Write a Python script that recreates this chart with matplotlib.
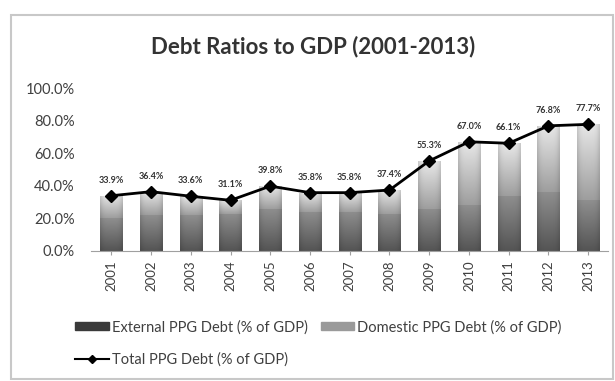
import numpy as np
import matplotlib.pyplot as plt
from matplotlib.patches import Rectangle
from matplotlib.lines import Line2D

plt.rcParams['font.family'] = ['Lato', 'DejaVu Sans']

# data (% of GDP)
years = ['2001', '2002', '2003', '2004', '2005', '2006', '2007',
         '2008', '2009', '2010', '2011', '2012', '2013']
total = [33.9, 36.4, 33.6, 31.1, 39.8, 35.8, 35.8, 37.4, 55.3, 67.0, 66.1, 76.8, 77.7]
external = [20.0, 22.0, 22.0, 23.0, 26.0, 24.0, 24.0, 23.0, 26.0, 28.0, 34.0, 36.0, 31.0]
domestic = [t - e for t, e in zip(total, external)]

fig = plt.figure(figsize=(6.15, 3.81), dpi=100)
fig.patch.set_facecolor('white')

# chart border
fig.patches.append(Rectangle((11 / 615, 2 / 381), 602 / 615, 1 - 17 / 381,
                             transform=fig.transFigure, fill=False,
                             edgecolor='#c8c8c8', lw=1.5))

ax = fig.add_axes([91.4 / 615, 1 - 251 / 381, 516.7 / 615, 163 / 381])
x = np.arange(len(years))
w = 0.56

b_ext = ax.bar(x, external, w, color='#777777', zorder=2)
b_dom = ax.bar(x, domestic, w, bottom=external, color='#c4c4c4', zorder=2)


def shade(bars, c_low, c_high):
    # vertical gradient inside each bar, a bit darker at the sides
    gy = np.linspace(0, 1, 64).reshape(-1, 1)
    gx = np.linspace(-1, 1, 16).reshape(1, -1)
    lo = np.array(c_low)
    hi = np.array(c_high)
    img = lo + (hi - lo) * gy[..., None]
    img = img * (1 - 0.12 * gx[..., None] ** 4)
    img = np.clip(img, 0, 1)
    for b in bars:
        bx, by = b.get_x(), b.get_y()
        im = ax.imshow(img, extent=[bx, bx + b.get_width(), by, by + b.get_height()],
                       origin='lower', aspect='auto', zorder=2.5, interpolation='bilinear')
        im.set_clip_path(b)


shade(b_ext, (0.33, 0.33, 0.33), (0.56, 0.56, 0.56))
shade(b_dom, (0.62, 0.62, 0.62), (0.91, 0.91, 0.91))

ax.plot(x, total, color='black', lw=2, marker='D', ms=6, zorder=4)
for xi, t in zip(x, total):
    ax.annotate(f'{t:.1f}%', (xi, t), xytext=(0, 8), textcoords='offset points',
                ha='center', va='bottom', fontsize=6.5, fontweight='bold', color='#333333')

ax.set_xlim(-0.5, len(years) - 0.5)
ax.set_ylim(0, 100)
ax.set_yticks(np.arange(0, 101, 20))
ax.set_yticklabels([f'{v:.1f}%' for v in np.arange(0, 101, 20)])
ax.set_xticks(x)
ax.set_xticklabels(years, rotation=90)
ax.tick_params(axis='y', length=0, labelsize=10.5, labelcolor='#404040', pad=12)
ax.tick_params(axis='x', length=3, color='#a0a0a0', labelsize=9.5, labelcolor='#404040', pad=4)
for s in ['top', 'right', 'left']:
    ax.spines[s].set_visible(False)
ax.spines['bottom'].set_color('#a0a0a0')
ax.set_facecolor('none')

fig.text(313 / 615, 1 - 47 / 381, 'Debt Ratios to GDP (2001-2013)', ha='center', va='center',
         fontsize=16, fontweight='bold', color='#333333')

handles = [Rectangle((0, 0), 1, 1, color='#3a3a3a'),
           Line2D([], [], color='black', lw=1.5, marker='D', ms=4.5),
           Rectangle((0, 0), 1, 1, color='#9a9a9a')]
labels = ['External PPG Debt (% of GDP)', 'Total PPG Debt (% of GDP)',
          'Domestic PPG Debt (% of GDP)']
fig.legend(handles, labels, ncol=2, loc='upper left', bbox_to_anchor=(62 / 615, 1 - 307 / 381),
           frameon=False, fontsize=10.5, handlelength=2.3, handleheight=0.5,
           columnspacing=0.9, handletextpad=0.2, labelspacing=1.25, labelcolor='#404040')

fig.savefig('out.png', dpi=100)
